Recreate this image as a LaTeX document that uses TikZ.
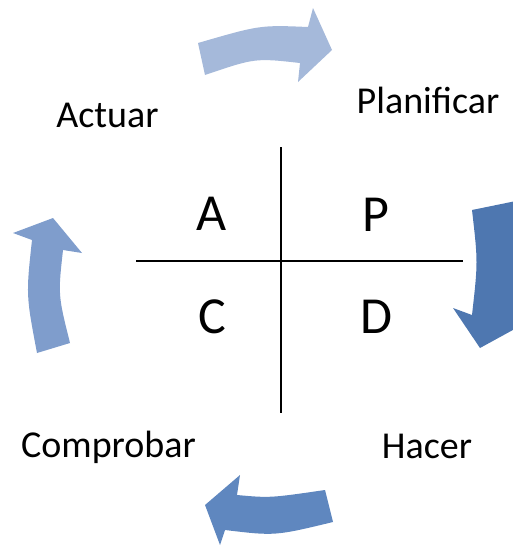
\documentclass[tikz,border=0pt]{standalone}
\usepackage{fontspec}
\setmainfont{Carlito}
\definecolor{arrtop}{HTML}{A5B9DA}
\definecolor{arrright}{HTML}{4E77B0}
\definecolor{arrbottom}{HTML}{5F87BF}
\definecolor{arrleft}{HTML}{7F9DCC}
\tikzset{
  lbl/.style={anchor=base, inner sep=0pt, font=\fontsize{38}{45}\selectfont},
  letter/.style={anchor=base, inner sep=0pt, font=\fontsize{52}{60}\selectfont},
  crossline/.style={line width=1.5pt, black},
  cyc/.style={draw=none}
}
\begin{document}
\begin{tikzpicture}[x=1pt,y=-1pt]
\useasboundingbox (0,0) rectangle (513,546);
\clip (0,0) rectangle (513,546);
% cycle arrows
\fill[arrtop] (198,43) -- (205,75) .. controls (255,58) .. (300,63) -- (298,82) -- (332,50) -- (313,8) -- (308,27) .. controls (260,25) .. (198,43) -- cycle;
\fill[arrright] (472,210) -- (516,201) .. controls (520,262) .. (515,322) -- (522,325) -- (480,348) -- (453,308) -- (472,315) .. controls (478,262) .. (472,210) -- cycle;
\fill[arrbottom] (325,490) -- (333,522) .. controls (275,536) .. (225,530) -- (220,545) -- (205,505) -- (240,475) -- (237,495) .. controls (270,498) .. (325,490) -- cycle;
\fill[arrleft] (37,353) -- (70,343) .. controls (58,295) .. (63,250) -- (82,253) -- (53,218) -- (13,233) -- (32,240) .. controls (26,295) .. (37,353) -- cycle;
% cross
\coordinate (vt) at (281,147);
\coordinate (vb) at (281,413);
\coordinate (hl) at (136,261);
\coordinate (hr) at (463,261);
\draw[crossline] (vt) -- (vb);
\draw[crossline] (hl) -- (hr);
% letters
\node[letter] (la) at (212,230) {A};
\node[letter] (lp) at (376,231) {P};
\node[letter] (lc) at (212,333) {C};
\node[letter] (ld) at (376,333) {D};
% labels
\node[lbl] (actuar) at (107.5,127) {Actuar};
\node[lbl] (planificar) at (428,113) {Planificar};
\node[lbl] (comprobar) at (108.5,457) {Comprobar};
\node[lbl] (hacer) at (427,458) {Hacer};
\end{tikzpicture}
\end{document}
